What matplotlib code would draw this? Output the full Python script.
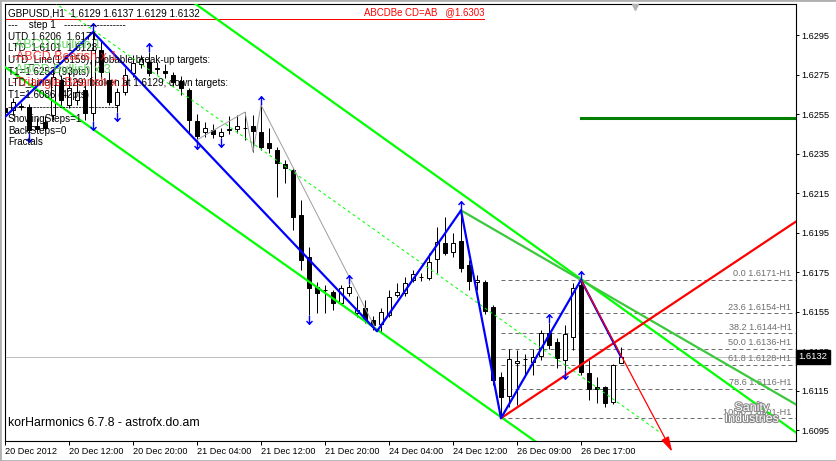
import matplotlib
matplotlib.use('Agg')
import matplotlib.pyplot as plt
import numpy as np
from matplotlib.path import Path
import matplotlib.patheffects as pe
from matplotlib.transforms import blended_transform_factory

plt.rcParams['font.family'] = ['Liberation Sans', 'DejaVu Sans']

# ---------------- data ----------------
opens = [1.62581, 1.62571, 1.62586, 1.62586, 1.62490, 1.62510, 1.62545, 1.62722, 1.62596, 1.62621,
         1.62672, 1.62555, 1.62874, 1.62722, 1.62596, 1.62662, 1.62758, 1.62803, 1.62813, 1.62783,
         1.62768, 1.62748, 1.62717, 1.62672, 1.62515, 1.62459, 1.62469, 1.62439, 1.62469, 1.62474,
         1.62479, 1.62490, 1.62459, 1.62403, 1.62368, 1.62297, 1.62267, 1.62039, 1.61827, 1.61675,
         1.61660, 1.61650, 1.61594, 1.61645, 1.61543, 1.61569, 1.61508, 1.61488, 1.61533, 1.61634,
         1.61645, 1.61710, 1.61726, 1.61720, 1.61817, 1.61898, 1.61852, 1.61908, 1.61786, 1.61700,
         1.61700, 1.61574, 1.61219, 1.61123, 1.61290, 1.61311, 1.61295, 1.61326, 1.61442, 1.61397,
         1.61306, 1.61422, 1.61685, 1.61240, 1.61169, 1.61169, 1.61093, 1.61290]
highs = [1.62601, 1.62631, 1.62606, 1.62601, 1.62530, 1.62540, 1.62773, 1.62748, 1.62763, 1.62722,
         1.62722, 1.62965, 1.62925, 1.62763, 1.62682, 1.62783, 1.62849, 1.62849, 1.62864, 1.62813,
         1.62803, 1.62763, 1.62743, 1.62682, 1.62550, 1.62510, 1.62500, 1.62479, 1.62540, 1.62545,
         1.62560, 1.62545, 1.62596, 1.62479, 1.62383, 1.62317, 1.62277, 1.62115, 1.61877, 1.61700,
         1.61685, 1.61660, 1.61685, 1.61690, 1.61629, 1.61609, 1.61528, 1.61569, 1.61660, 1.61695,
         1.61726, 1.61761, 1.61746, 1.61847, 1.61979, 1.62029, 1.61948, 1.62062, 1.61811, 1.61736,
         1.61710, 1.61584, 1.61245, 1.61361, 1.61356, 1.61336, 1.61361, 1.61457, 1.61493, 1.61417,
         1.61483, 1.61695, 1.61710, 1.61306, 1.61219, 1.61174, 1.61285, 1.61370]
lows = [1.62535, 1.62545, 1.62571, 1.62454, 1.62464, 1.62464, 1.62520, 1.62591, 1.62581, 1.62596,
        1.62520, 1.62515, 1.62732, 1.62596, 1.62560, 1.62646, 1.62737, 1.62783, 1.62743, 1.62753,
        1.62732, 1.62692, 1.62646, 1.62454, 1.62419, 1.62434, 1.62429, 1.62429, 1.62449, 1.62454,
        1.62419, 1.62358, 1.62368, 1.62353, 1.62130, 1.62201, 1.61963, 1.61761, 1.61533, 1.61543,
        1.61543, 1.61559, 1.61584, 1.61629, 1.61523, 1.61493, 1.61457, 1.61447, 1.61523, 1.61624,
        1.61629, 1.61700, 1.61705, 1.61710, 1.61746, 1.61837, 1.61827, 1.61751, 1.61660, 1.61660,
        1.61538, 1.61179, 1.61010, 1.61068, 1.61078, 1.61230, 1.61230, 1.61306, 1.61361, 1.61265,
        1.61255, 1.61356, 1.61230, 1.61103, 1.61088, 1.61068, 1.61083, 1.61290]
closes = [1.62560, 1.62611, 1.62591, 1.62469, 1.62474, 1.62479, 1.62737, 1.62621, 1.62682, 1.62662,
          1.62555, 1.62874, 1.62763, 1.62611, 1.62662, 1.62748, 1.62808, 1.62829, 1.62758, 1.62778,
          1.62758, 1.62712, 1.62682, 1.62520, 1.62439, 1.62479, 1.62449, 1.62459, 1.62474, 1.62490,
          1.62477, 1.62464, 1.62383, 1.62378, 1.62302, 1.62277, 1.62029, 1.61811, 1.61670, 1.61645,
          1.61657, 1.61594, 1.61670, 1.61675, 1.61559, 1.61508, 1.61483, 1.61548, 1.61624, 1.61650,
          1.61695, 1.61741, 1.61723, 1.61801, 1.61903, 1.61847, 1.61898, 1.61771, 1.61705, 1.61710,
          1.61553, 1.61204, 1.61118, 1.61311, 1.61300, 1.61308, 1.61321, 1.61442, 1.61381, 1.61316,
          1.61437, 1.61670, 1.61245, 1.61159, 1.61159, 1.61088, 1.61280, 1.61320]

time_tick_bars = [0, 8, 16, 24, 32, 40, 48, 56, 64, 72]
time_tick_labels = ['20 Dec 2012', '20 Dec 12:00', '20 Dec 20:00', '21 Dec 04:00', '21 Dec 12:00',
                    '21 Dec 20:00', '24 Dec 04:00', '24 Dec 12:00', '26 Dec 09:00', '26 Dec 17:00']
price_ticks = [1.6295, 1.6275, 1.6255, 1.6235, 1.6215, 1.6195, 1.6175, 1.6155, 1.6135, 1.6115, 1.6095]

zigzag_bars = [0, 11, 46.5, 57, 62, 72, 77]
zigzag_prices = [1.62535, 1.62965, 1.61450, 1.62062, 1.61010, 1.61710, 1.61320]
grey_zz_bars = [24, 30, 31, 32, 46.5]
grey_zz_prices = [1.62419, 1.62560, 1.62358, 1.62596, 1.61450]

upper_channel_bars = [24, 98.75]
upper_channel_prices = [1.63102, 1.60941]
lower_channel_bars = [0, 66]
lower_channel_prices = [1.62788, 1.60901]
utd_bars = [57, 72]
utd_prices = [1.62062, 1.61710]
ltd_bars = [62, 72]
ltd_prices = [1.61010, 1.61280]
target_price = 1.6253
target_start_bar = 72
arrow_bars = [72, 83.4]
arrow_prices = [1.61710, 1.60840]
abcd_price = 1.6303
abcd_end_bar = 59.9
current_price = 1.6132

fib_start_bar = 62
fib_prices = [1.6171, 1.6154, 1.6144, 1.6136, 1.6128, 1.6116, 1.6101]
fib_labels = ['0.0 1.6171-H1', '23.6 1.6154-H1', '38.2 1.6144-H1', '50.0 1.6136-H1',
              '61.8 1.6128-H1', '78.6 1.6116-H1', '100.0 1.6101-H1']

fractal_up_bars = [11, 18, 32, 43, 57, 68, 72]
fractal_down_bars = [3, 11, 14, 24, 27, 38, 70]

info_lines = ['GBPUSD,H1  1.6129 1.6137 1.6129 1.6132',
              '---    step 1   -------------------',
              'UTD 1.6206  1.6171',
              'LTD  1.6101  1.6128',
              'UTD_Line(1.6159), probable break-up targets:',
              'T1=1.6253 (93pts)',
              'LTD_Line(1.6129) broken at 1.6129, down targets:',
              'T1=1.6086 (42pts)',
              '----------------------------------',
              'ShowingSteps=1',
              'BackSteps=0',
              'Fractals']
pattern_lines = ['ABCD Bullish 1', '-ABCD Bearish x 1', 'ABCD Bullish x 3', '-Triangle Bearish x 1']
pattern_colors = ['#4ccf4c', '#ff1a1a', '#4ccf4c', '#ff1a1a']

# ---------------- figure ----------------
W, H = 837, 461
fig = plt.figure(figsize=(W / 100, H / 100), dpi=100)
fig.patch.set_facecolor('white')
ax = fig.add_axes([4.5 / W, 20 / H, 791.5 / W, 437 / H])
ax.set_facecolor('white')
ax.set_xlim(-0.0625, 98.875)
ax.set_ylim(1.608944, 1.631070)

for s in ax.spines.values():
    s.set_color('black')
    s.set_linewidth(0.8)

PX = 0.72  # one pixel in points

def fpos(x, y):
    return (x / W, 1 - y / H)

# axis ticks
ax.yaxis.tick_right()
ax.set_yticks(price_ticks)
ax.set_yticklabels([f'{p:.4f}' for p in price_ticks])
ax.tick_params(axis='y', direction='out', length=3 * PX, width=PX, pad=2 * PX,
               labelsize=6.6, colors='black')
ax.set_xticks(time_tick_bars)
ax.set_xticklabels(time_tick_labels)
ax.tick_params(axis='x', direction='out', length=4 * PX, width=PX, pad=1.5 * PX,
               labelsize=6.6, colors='black')
for lbl in ax.get_xticklabels():
    lbl.set_horizontalalignment('left')

# current price line
ax.axhline(current_price, color='#c0c0c0', lw=PX, zorder=1)

# fib levels
xr = ax.get_xlim()[1]
for p, lab in zip(fib_prices, fib_labels):
    ax.plot([fib_start_bar, xr], [p, p], color='#6e6e6e', lw=PX, ls=(0, (4, 3)), zorder=1.5)
    ax.annotate(lab, xy=(98.3, p), xytext=(0, 1.2), textcoords='offset points',
                ha='right', va='bottom', fontsize=6.6, color='#6e6e6e', zorder=1.6)

# info text (beneath candles)
for k, t in enumerate(info_lines):
    fig.text(*fpos(8, 13 + 11.75 * k), t, fontsize=7.1, color='black', va='center', ha='left',
             zorder=1)
for k, (t, col) in enumerate(zip(pattern_lines, pattern_colors)):
    fig.text(*fpos(12 if t.startswith('-') else 15, 45 + 12.5 * k), t, fontsize=9, color=col,
             va='center', ha='left', zorder=1, alpha=0.85)

# ABCDBe target line
ax.plot([ax.get_xlim()[0], abcd_end_bar], [abcd_price, abcd_price], color='red', lw=PX, zorder=2)
ax.annotate('ABCDBe CD=AB   @1.6303', xy=(abcd_end_bar, abcd_price), xytext=(0, 1.5),
            textcoords='offset points', ha='right', va='bottom', fontsize=6.9, color='red')

# candles
o = np.array(opens); h = np.array(highs); l = np.array(lows); c = np.array(closes)
bars = np.arange(len(o))
ax.vlines(bars, l, h, color='black', lw=PX, zorder=3)
up = c >= o
lo = np.minimum(o, c)
ht = np.maximum(np.abs(c - o), 0.000005)
ax.bar(bars[up], ht[up], bottom=lo[up], width=0.6, color='white', edgecolor='black',
       linewidth=PX, zorder=3.2)
ax.bar(bars[~up], ht[~up], bottom=lo[~up], width=0.6, color='black', edgecolor='black',
       linewidth=PX, zorder=3.2)

# channel lines
def extend(bx, py, x0, x1):
    slope = (py[1] - py[0]) / (bx[1] - bx[0])
    return [x0, x1], [py[0] + slope * (x0 - bx[0]), py[0] + slope * (x1 - bx[0])]

ux, uy = extend(upper_channel_bars, upper_channel_prices, 10, 99)
lx, ly = extend(lower_channel_bars, lower_channel_prices, -1, 70)
ax.plot(ux, uy, color='#00ff00', lw=1.6, zorder=4, solid_capstyle='butt')
ax.plot(lx, ly, color='#00ff00', lw=1.6, zorder=4, solid_capstyle='butt')
mbars = np.array([0, 82])
u_s = (upper_channel_prices[1] - upper_channel_prices[0]) / (upper_channel_bars[1] - upper_channel_bars[0])
l_s = (lower_channel_prices[1] - lower_channel_prices[0]) / (lower_channel_bars[1] - lower_channel_bars[0])
mid = ((upper_channel_prices[0] + u_s * (mbars - upper_channel_bars[0])) +
       (lower_channel_prices[0] + l_s * (mbars - lower_channel_bars[0]))) / 2
ax.plot(mbars, mid, color='#00ff00', lw=PX, ls=(0, (3, 3)), zorder=4)

tx, ty = extend(utd_bars, utd_prices, utd_bars[0], 99)
ax.plot(tx, ty, color='#3cc83c', lw=1.6, zorder=4)
rx, ry = extend(ltd_bars, ltd_prices, ltd_bars[0], 99)
ax.plot(rx, ry, color='red', lw=1.6, zorder=4.2)

ax.plot([target_start_bar, 99], [target_price, target_price], color='#008000', lw=2.2, zorder=4)

# grey and blue zigzags
ax.plot(grey_zz_bars, grey_zz_prices, color='#a0a0a0', lw=PX, zorder=4)
ax.plot(zigzag_bars, zigzag_prices, color='#0000ff', lw=1.6, zorder=4.5)

# red arrow
ax.annotate('', xy=(arrow_bars[1], arrow_prices[1]), xytext=(arrow_bars[0], arrow_prices[0]),
            arrowprops=dict(arrowstyle='-|>,head_length=0.9,head_width=0.25', color='red', lw=0.9,
                            shrinkA=0, shrinkB=0),
            annotation_clip=False, zorder=4.6)

# fractal arrows
up_marker = Path([(-0.55, 0.1), (0, 0.7), (0.55, 0.1), (0, 0.7), (0, -0.9)],
                 [Path.MOVETO, Path.LINETO, Path.LINETO, Path.MOVETO, Path.LINETO])
down_marker = Path([(-0.55, -0.1), (0, -0.7), (0.55, -0.1), (0, -0.7), (0, 0.9)],
                   [Path.MOVETO, Path.LINETO, Path.LINETO, Path.MOVETO, Path.LINETO])
fu = np.array(fractal_up_bars); fd = np.array(fractal_down_bars)
ax.plot(fu, h[fu] + 0.00025, ls='none', marker=up_marker, ms=7, mec='#0000ff', mfc='none',
        mew=1.0, zorder=5)
ax.plot(fd, l[fd] - 0.00025, ls='none', marker=down_marker, ms=7, mec='#0000ff', mfc='none',
        mew=1.0, zorder=5)

# price box
trans = blended_transform_factory(ax.transAxes, ax.transData)
ax.text(1.0035, current_price, '1.6132', transform=trans, ha='left', va='center', fontsize=6.8,
        color='white', zorder=10, clip_on=False,
        bbox=dict(boxstyle='square,pad=0.28', fc='black', ec='black'))

# chart shift marker
ax.plot([78.75], [0.992], transform=blended_transform_factory(ax.transData, ax.transAxes),
        marker='v', ms=5, color='#b4b4b4', clip_on=False, zorder=6)

# footer text and watermark
fig.text(*fpos(8, 423), 'korHarmonics 6.7.8 - astrofx.do.am', fontsize=8.8, color='black',
         va='center', ha='left')
for t, y in (('Sanity', 408), ('Industries', 419)):
    fig.text(*fpos(752, y), t, fontsize=9, color='white', ha='center', va='center', zorder=20,
             path_effects=[pe.withStroke(linewidth=1.5, foreground='#8a8a8a')])

# outer frame
fig.add_artist(plt.Rectangle((0, 0), 1, 1, transform=fig.transFigure, fill=False,
                             ec='#b0b0b0', lw=2))

fig.savefig('out.png', dpi=100)
